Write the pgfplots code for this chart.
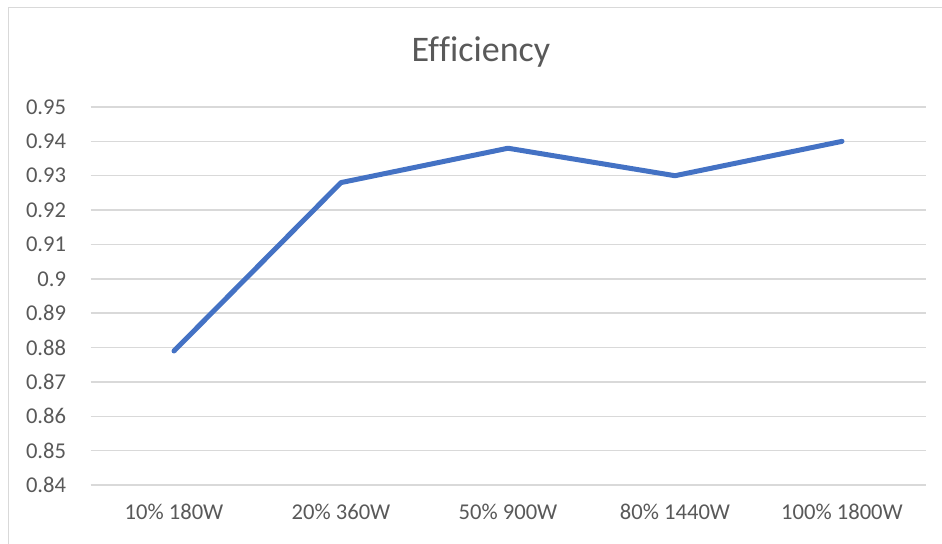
\documentclass[border=0pt]{standalone}
\usepackage{fontspec}
\setmainfont{Carlito}[Ligatures={NoCommon}]
\usepackage{pgfplots}
\pgfplotsset{compat=1.18}
\definecolor{txt}{HTML}{595959}
\definecolor{grd}{HTML}{D9D9D9}
\definecolor{ln}{HTML}{4472C4}
\begin{document}
\begin{tikzpicture}[x=1pt,y=1pt]
\path[use as bounding box] (0,0) rectangle (471,272);
\draw[grd, line width=0.75pt] (4.25,0) -- (4.25,268.25) -- (471,268.25);
\node[txt, anchor=base, inner sep=0, font=\fontsize{18}{20}\selectfont] at (240.5,241) {Ef\kern0ptf\kern0pticiency};
\begin{axis}[
  at={(45.25pt,29.5pt)}, anchor=south west,
  scale only axis, width=417.5pt, height=189pt,
  xmin=-0.5, xmax=4.5, ymin=0.84, ymax=0.95,
  xtick={0,1,2,3,4},
  xticklabels={10\% 180W, 20\% 360W, 50\% 900W, 80\% 1440W, 100\% 1800W},
  ytick={0.84,0.85,0.86,0.87,0.88,0.89,0.90,0.91,0.92,0.93,0.94,0.95},
  yticklabels={0.84,0.85,0.86,0.87,0.88,0.89,0.9,0.91,0.92,0.93,0.94,0.95},
  major tick length=0pt,
  axis line style={draw=none},
  ymajorgrids, major grid style={grd, line width=0.75pt},
  tick label style={txt, font=\fontsize{11.3}{13}\selectfont},
  yticklabel style={anchor=east, inner sep=0pt, xshift=-12pt},
  xticklabel style={anchor=north, inner sep=0pt, yshift=-9.5pt},
  clip=false,
]
\addplot[ln, line width=2.5pt, line join=round, line cap=round] coordinates {
  (0,0.879) (1,0.928) (2,0.938) (3,0.930) (4,0.940)
};
\end{axis}
\end{tikzpicture}
\end{document}
